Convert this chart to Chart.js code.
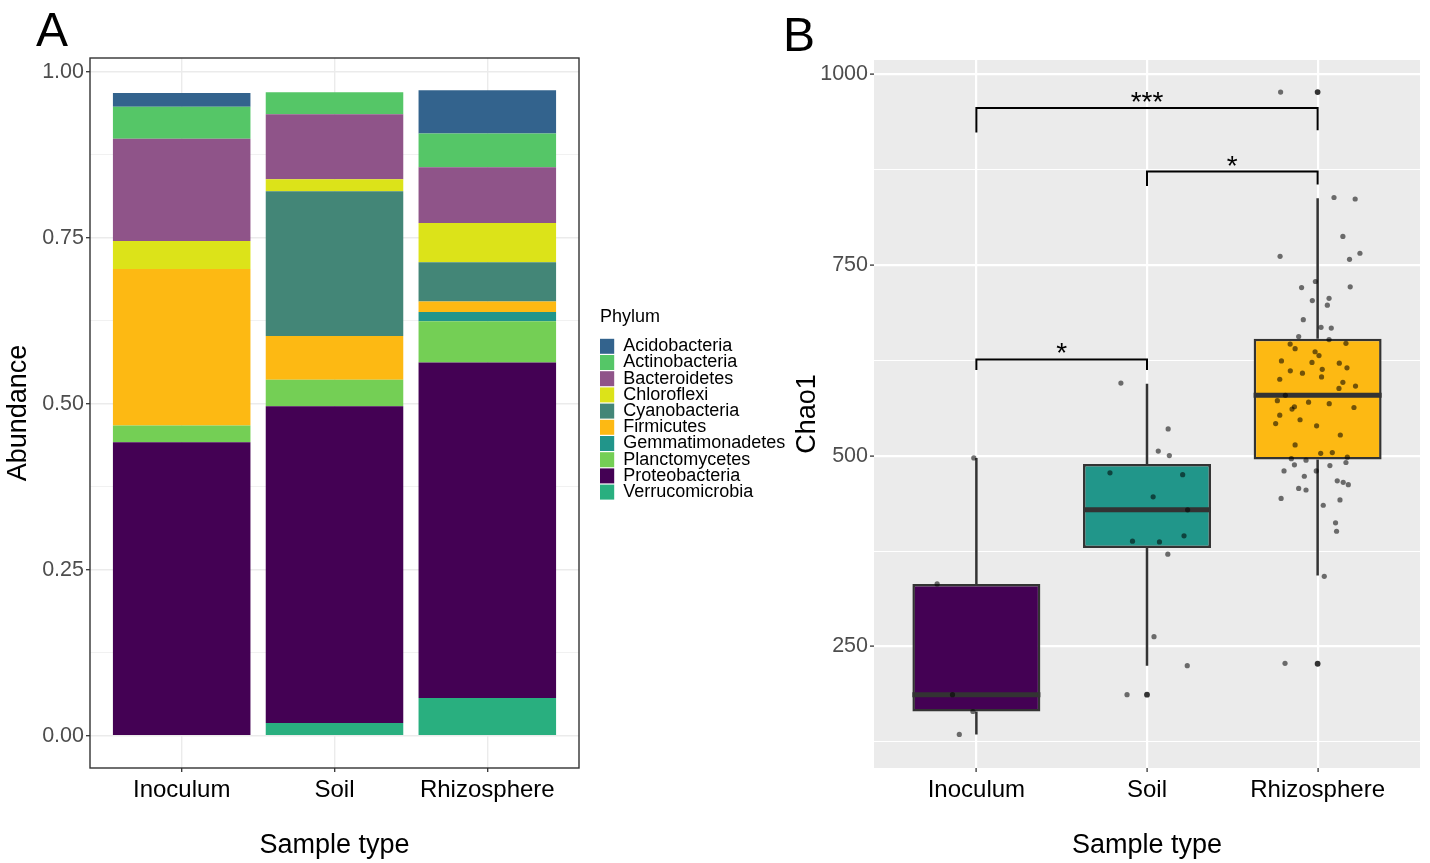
<!DOCTYPE html>
<html>
<head>
<meta charset="utf-8">
<script src="https://cdn.jsdelivr.net/npm/chart.js@4.4.1/dist/chart.umd.min.js"></script>
<style>
  html, body { margin: 0; padding: 0; background: #fff; }
  #wrap { position: relative; width: 1430px; height: 863px; overflow: hidden; font-family: 'Liberation Sans', Arial, sans-serif; }
  canvas { position: absolute; top: 0; }
  .tag { position: absolute; font-size: 48px; line-height: 48px; color: #000; }
</style>
</head>
<body>
<div id="wrap">
  <canvas id="chartA" width="790" height="863" style="left:0"></canvas>
  <canvas id="chartB" width="640" height="863" style="left:790px"></canvas>
  <div class="tag" style="left:36px;top:6px">A</div>
  <div class="tag" style="left:783px;top:11px">B</div>
</div>
<script>
// Panel A: relative abundance of phyla per sample type
const SAMPLE_TYPES = ['Inoculum', 'Soil', 'Rhizosphere'];
const PHYLA = ['Acidobacteria', 'Actinobacteria', 'Bacteroidetes', 'Chloroflexi', 'Cyanobacteria',
               'Firmicutes', 'Gemmatimonadetes', 'Planctomycetes', 'Proteobacteria', 'Verrucomicrobia'];
const INOCULUM_ABUNDANCE    = [0.021, 0.048, 0.154, 0.042, 0.000, 0.236, 0.000, 0.025, 0.442, 0.000];
const SOIL_ABUNDANCE        = [0.000, 0.033, 0.098, 0.018, 0.218, 0.066, 0.000, 0.040, 0.477, 0.019];
const RHIZOSPHERE_ABUNDANCE = [0.065, 0.051, 0.084, 0.059, 0.059, 0.016, 0.014, 0.062, 0.505, 0.057];
const ABUNDANCE_MAJOR_TICKS = [0, 0.25, 0.5, 0.75, 1];
const ABUNDANCE_MINOR_TICKS = [0.125, 0.375, 0.625, 0.875];

// Panel B: Chao1 richness boxplots
const CHAO1_LOWER = [135, 225, 343];
const CHAO1_Q1 = [165, 379, 495];
const CHAO1_MEDIAN = [187, 429, 579];
const CHAO1_Q3 = [332, 489, 653];
const CHAO1_UPPER = [497, 594, 837];
const OUTLIER_GROUP = [2, 3, 3];
const OUTLIER_VALUE = [187, 976, 227.5];

const INOCULUM_CHAO1 = [497, 332, 187, 165, 135];
const INOCULUM_JITTER = [-0.015, -0.23, -0.14, -0.02, -0.10];
const SOIL_CHAO1 = [595, 535, 506, 500, 477.5, 475, 446, 429, 395, 388, 387, 371, 263, 225, 187];
const SOIL_JITTER = [-0.153, 0.124, 0.066, 0.131, -0.217, 0.209, 0.036, 0.238, 0.217, -0.085, 0.073, 0.122, 0.041, 0.236, -0.117];
const RHIZOSPHERE_CHAO1 = [976, 838, 836, 787, 761, 765, 757, 720, 728, 721, 703, 706, 697, 678, 668, 667,
  656, 652, 646, 640, 647, 636, 631, 624, 622, 621, 615, 611, 608, 613, 600, 603, 596, 591, 588, 579,
  572, 570, 568, 563, 564, 561, 553, 547, 542, 539, 527, 514, 503, 504, 498, 496, 494, 491, 488, 487,
  480, 480, 473, 467, 465, 462, 457, 455, 444, 442, 435, 412, 401, 342, 228];
const RHIZOSPHERE_JITTER = [-0.217, 0.096, 0.22, 0.148, -0.22, 0.248, 0.187, -0.094, -0.013, 0.191, -0.031, 0.067,
  0.057, -0.084, 0.02, 0.08, -0.111, 0.067, -0.161, -0.132, 0.166, -0.015, 0.008, -0.212, -0.033, 0.127, 0.172,
  -0.16, -0.089, 0.027, -0.222, 0.023, 0.148, 0.222, 0.125, -0.189, -0.236, -0.053, 0.068, 0.213, -0.136, -0.15,
  -0.222, -0.103, -0.246, -0.006, 0.133, -0.132, 0.018, 0.086, 0.174, -0.154, -0.068, 0.166, -0.136, 0.072,
  -0.008, -0.197, -0.078, 0.115, 0.15, 0.18, -0.111, -0.068, -0.214, 0.131, 0.033, 0.105, 0.111, 0.039, -0.191];
const CHAO1_MAJOR_TICKS = [250, 500, 750, 1000];
const CHAO1_MINOR_TICKS = [125, 375, 625, 875];

// significance brackets (from group, to group, bar height, leg ends, label)
const BRACKET_FROM = [1, 2, 1];
const BRACKET_TO = [3, 3, 2];
const BRACKET_Y = [955, 872, 626];
const BRACKET_LEFT_END = [923, 853, 612];
const BRACKET_RIGHT_END = [926, 855, 612];
const BRACKET_LABEL = ['***', '*', '*'];

// Colours
const PHYLUM_COLORS = ['#33638D', '#55C667', '#8F5489', '#DCE319', '#438677',
                       '#FDB913', '#21958A', '#74CF55', '#440154', '#29AF7F'];
const GROUP_COLORS = ['#440154', '#21968A', '#FDB913'];
const INK = '#333333';
const FONT = "'Liberation Sans', Arial, sans-serif";

Chart.defaults.font.family = FONT;
Chart.defaults.color = '#000';
Chart.defaults.animation = false;

function fixedTicks(values) {
    return scale => { scale.ticks = values.map(v => ({ value: v })); };
}
const isMinor = (list, v) => list.includes(v);

// frame around panel A (theme_bw)
const panelFrame = {
    id: 'panelFrame',
    afterDatasetsDraw(chart) {
        const { ctx, chartArea: a } = chart;
        ctx.save();
        ctx.strokeStyle = INK;
        ctx.lineWidth = 1.4;
        ctx.strokeRect(a.left, a.top, a.right - a.left, a.bottom - a.top);
        ctx.restore();
    }
};

// grey panel background for B (theme_gray)
const panelBackground = {
    id: 'panelBackground',
    beforeDraw(chart) {
        const { ctx, chartArea: a } = chart;
        ctx.save();
        ctx.fillStyle = '#EBEBEB';
        ctx.fillRect(a.left, a.top, a.right - a.left, a.bottom - a.top);
        ctx.restore();
    }
};

const signifLabels = {
    id: 'signifLabels',
    afterDatasetsDraw(chart) {
        const { ctx, scales: { x, y } } = chart;
        ctx.save();
        ctx.font = '28px ' + FONT;
        ctx.fillStyle = '#000';
        ctx.textAlign = 'center';
        ctx.textBaseline = 'alphabetic';
        BRACKET_LABEL.forEach((lab, i) => {
            const cx = x.getPixelForValue((BRACKET_FROM[i] + BRACKET_TO[i]) / 2);
            const cy = y.getPixelForValue(BRACKET_Y[i]);
            ctx.fillText(lab, cx, cy + 3);
        });
        ctx.restore();
    }
};

// ---------- Panel A ----------
const abundanceBySample = [INOCULUM_ABUNDANCE, SOIL_ABUNDANCE, RHIZOSPHERE_ABUNDANCE];
const phylumDatasets = PHYLA.map((name, i) => ({
    label: name,
    data: SAMPLE_TYPES.map((_, j) => ({ x: j + 1, y: abundanceBySample[j][i] })),
    backgroundColor: PHYLUM_COLORS[i],
    borderColor: PHYLUM_COLORS[i],
    borderWidth: 0,
})).reverse();  // first phylum ends up on top of the stack

new Chart(document.getElementById('chartA'), {
    type: 'bar',
    data: { datasets: phylumDatasets },
    plugins: [panelFrame],
    options: {
        responsive: false,
        layout: { padding: { top: 58, left: 0, right: 0, bottom: 0 } },
        datasets: { bar: { barPercentage: 0.9, categoryPercentage: 1 } },
        plugins: {
            tooltip: { enabled: false },
            legend: {
                position: 'right',
                align: 'start',
                fullSize: false,
                reverse: true,
                maxWidth: 190,
                title: {
                    display: true,
                    text: 'Phylum',
                    position: 'start',
                    color: '#000',
                    font: { size: 18 },
                    padding: { top: 250, bottom: 9.5 },
                },
                labels: {
                    color: '#000',
                    font: { size: 18 },
                    boxWidth: 16,
                    boxHeight: 15,
                    padding: -1.8,
                },
            },
        },
        scales: {
            x: {
                type: 'linear',
                min: 0.4,
                max: 3.6,
                offset: false,
                stacked: true,
                afterBuildTicks: fixedTicks([1, 2, 3]),
                afterFit: s => { s.height = 95; },
                grid: { offset: false, color: '#EBEBEB', lineWidth: 1.4, tickColor: INK, tickWidth: 1.3, tickLength: 4 },
                border: { display: false },
                ticks: {
                    callback: v => SAMPLE_TYPES[v - 1],
                    color: '#000',
                    font: { size: 24 },
                    padding: 4,
                    maxRotation: 0,
                    autoSkip: false,
                },
                title: { display: true, text: 'Sample type', color: '#000', font: { size: 27 }, padding: { top: 0, bottom: 1.5 } },
            },
            y: {
                min: -0.0486,
                max: 1.0206,
                stacked: true,
                afterBuildTicks: fixedTicks([...ABUNDANCE_MAJOR_TICKS, ...ABUNDANCE_MINOR_TICKS].sort((a, b) => a - b)),
                afterFit: s => { s.width = 90; },
                grid: {
                    color: '#EBEBEB',
                    lineWidth: c => isMinor(ABUNDANCE_MINOR_TICKS, c.tick.value) ? 0.7 : 1.4,
                    tickColor: c => isMinor(ABUNDANCE_MINOR_TICKS, c.tick.value) ? 'rgba(0,0,0,0)' : INK,
                    tickWidth: 1.3,
                    tickLength: 4,
                },
                border: { display: false },
                ticks: {
                    callback: v => ABUNDANCE_MAJOR_TICKS.includes(v) ? v.toFixed(2) : '',
                    color: '#4D4D4D',
                    font: { size: 21.5 },
                    padding: 2,
                    autoSkip: false,
                },
                title: { display: true, text: 'Abundance', color: '#000', font: { size: 27 }, padding: { top: 2, bottom: 0 } },
            },
            gap: {
                type: 'linear',
                position: 'right',
                grid: { display: false },
                ticks: { display: false },
                border: { display: false },
                afterFit: s => { s.width = 21; },
            },
        },
    },
});

// ---------- Panel B ----------
const BOX_HALF_WIDTH = 0.375;

const whiskerData = [];
const medianData = [];
SAMPLE_TYPES.forEach((_, i) => {
    const g = i + 1;
    whiskerData.push({ x: g, y: CHAO1_Q3[i] }, { x: g, y: CHAO1_UPPER[i] }, { x: g, y: null },
                     { x: g, y: CHAO1_Q1[i] }, { x: g, y: CHAO1_LOWER[i] }, { x: g, y: null });
    medianData.push({ x: g - BOX_HALF_WIDTH, y: CHAO1_MEDIAN[i] }, { x: g + BOX_HALF_WIDTH, y: CHAO1_MEDIAN[i] },
                    { x: g, y: null });
});

const jitterPoints = (g, values, offsets) => values.map((v, k) => ({ x: g + offsets[k], y: v }));
const jitterData = [
    ...jitterPoints(1, INOCULUM_CHAO1, INOCULUM_JITTER),
    ...jitterPoints(2, SOIL_CHAO1, SOIL_JITTER),
    ...jitterPoints(3, RHIZOSPHERE_CHAO1, RHIZOSPHERE_JITTER),
];

const bracketData = [];
BRACKET_LABEL.forEach((_, i) => {
    bracketData.push(
        { x: BRACKET_FROM[i], y: BRACKET_LEFT_END[i] },
        { x: BRACKET_FROM[i], y: BRACKET_Y[i] },
        { x: BRACKET_TO[i], y: BRACKET_Y[i] },
        { x: BRACKET_TO[i], y: BRACKET_RIGHT_END[i] },
        { x: BRACKET_TO[i], y: null });
});

new Chart(document.getElementById('chartB'), {
    type: 'bar',
    data: {
        datasets: [
            {
                label: 'box',
                data: SAMPLE_TYPES.map((_, i) => ({ x: i + 1, y: [CHAO1_Q1[i], CHAO1_Q3[i]] })),
                backgroundColor: GROUP_COLORS,
                borderColor: INK,
                borderWidth: 2.5,
                borderSkipped: false,
                barPercentage: 0.75,
                categoryPercentage: 1,
                order: 4,
            },
            {
                type: 'line',
                label: 'whiskers',
                data: whiskerData,
                borderColor: INK,
                borderWidth: 2.5,
                borderCapStyle: 'butt',
                pointRadius: 0,
                spanGaps: false,
                order: 5,
            },
            {
                type: 'line',
                label: 'median',
                data: medianData,
                borderColor: INK,
                borderWidth: 5,
                borderCapStyle: 'butt',
                pointRadius: 0,
                spanGaps: false,
                order: 3,
            },
            {
                type: 'scatter',
                label: 'outliers',
                data: OUTLIER_VALUE.map((v, k) => ({ x: OUTLIER_GROUP[k], y: v })),
                backgroundColor: INK,
                borderWidth: 0,
                pointRadius: 2.9,
                order: 2,
            },
            {
                type: 'scatter',
                label: 'samples',
                data: jitterData,
                backgroundColor: 'rgba(0,0,0,0.55)',
                borderWidth: 0,
                pointRadius: 2.6,
                order: 1,
            },
            {
                type: 'line',
                label: 'brackets',
                data: bracketData,
                borderColor: '#000',
                borderWidth: 2,
                borderCapStyle: 'butt',
                pointRadius: 0,
                spanGaps: false,
                order: 0,
            },
        ],
    },
    plugins: [panelBackground, signifLabels],
    options: {
        responsive: false,
        layout: { padding: { top: 60, left: 0, right: 10, bottom: 0 } },
        plugins: { legend: { display: false }, tooltip: { enabled: false } },
        scales: {
            x: {
                type: 'linear',
                min: 0.4,
                max: 3.6,
                offset: false,
                afterBuildTicks: fixedTicks([1, 2, 3]),
                afterFit: s => { s.height = 95; },
                grid: { offset: false, color: '#FFFFFF', lineWidth: 2.2, tickColor: INK, tickWidth: 1.3, tickLength: 4 },
                border: { display: false },
                ticks: {
                    callback: v => SAMPLE_TYPES[v - 1],
                    color: '#000',
                    font: { size: 24 },
                    padding: 4,
                    maxRotation: 0,
                    autoSkip: false,
                },
                title: { display: true, text: 'Sample type', color: '#000', font: { size: 27 }, padding: { top: 0, bottom: 1.5 } },
            },
            y: {
                min: 91,
                max: 1018,
                afterBuildTicks: fixedTicks([...CHAO1_MINOR_TICKS, ...CHAO1_MAJOR_TICKS].sort((a, b) => a - b)),
                afterFit: s => { s.width = 84; },
                grid: {
                    color: '#FFFFFF',
                    lineWidth: c => isMinor(CHAO1_MINOR_TICKS, c.tick.value) ? 1.1 : 2.2,
                    tickColor: c => isMinor(CHAO1_MINOR_TICKS, c.tick.value) ? 'rgba(0,0,0,0)' : INK,
                    tickWidth: 1.3,
                    tickLength: 4,
                },
                border: { display: false },
                ticks: {
                    callback: v => CHAO1_MAJOR_TICKS.includes(v) ? String(v) : '',
                    color: '#4D4D4D',
                    font: { size: 21.5 },
                    padding: 2,
                    autoSkip: false,
                },
                title: { display: true, text: 'Chao1', color: '#000', font: { size: 27 }, padding: { top: 1, bottom: 0 } },
            },
        },
    },
});
</script>
</body>
</html>
